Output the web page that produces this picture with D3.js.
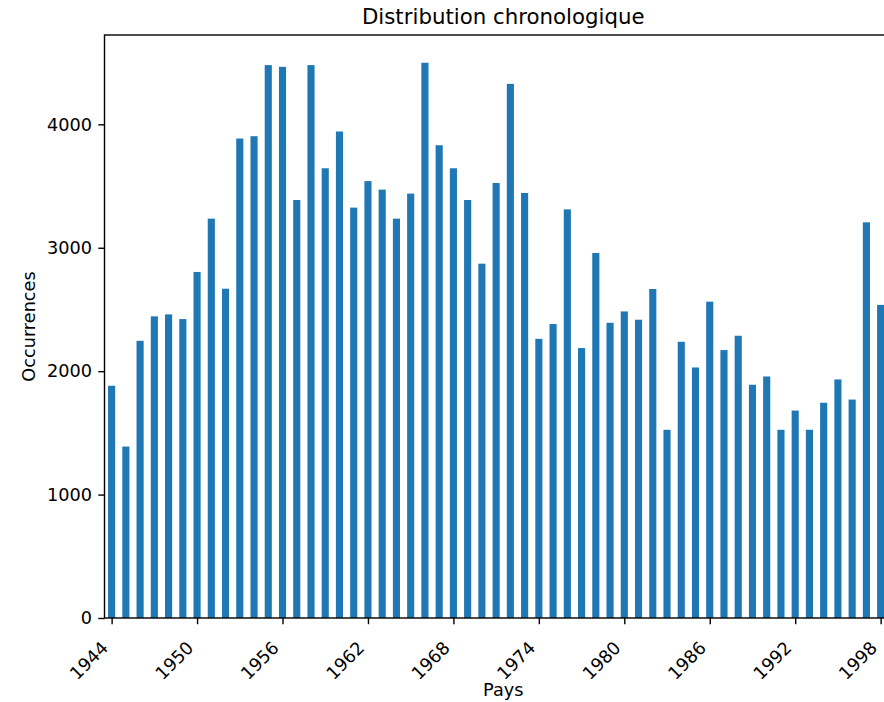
<!DOCTYPE html>
<html><head><meta charset="utf-8">
<script src="https://cdn.jsdelivr.net/npm/d3@7"></script>
<style>html,body{margin:0;padding:0;background:#fff;overflow:hidden}svg{display:block;font-family:"DejaVu Sans",sans-serif}svg text{font-family:"DejaVu Sans",sans-serif}</style>
</head><body>
<script>
const years = [1944,1945,1946,1947,1948,1949,1950,1951,1952,1953,1954,1955,1956,1957,1958,1959,1960,1961,1962,1963,1964,1965,1966,1967,1968,1969,1970,1971,1972,1973,1974,1975,1976,1977,1978,1979,1980,1981,1982,1983,1984,1985,1986,1987,1988,1989,1990,1991,1992,1993,1994,1995,1996,1997,1998];
const occurrences = [1882,1389,2246,2444,2460,2422,2804,3236,2668,3885,3904,4480,4466,3387,4480,3644,3942,3325,3540,3471,3236,3439,4499,3831,3644,3387,2871,3525,4328,3444,2262,2382,3311,2187,2958,2392,2484,2417,2666,1525,2238,2030,2563,2171,2287,1890,1957,1525,1681,1525,1744,1933,1770,3206,2537];
const yTicks = [0,1000,2000,3000,4000];
const xTickYears = [1944,1950,1956,1962,1968,1974,1980,1986,1992,1998];
const chartTitle = "Distribution chronologique";
const xLabel = "Pays";
const yLabel = "Occurrences";

(function () {
const W = 884, H = 702;
const pLeft = 104.5, pRight = 902, pTop = 35, pBottom = 618;
const nSlots = 56;
const fs = 17.7, lw = 1.4, tl = 6.2;

const svg = d3.select("body").append("svg").attr("width", W).attr("height", H);

const x = d3.scaleLinear().domain([-0.5, nSlots - 0.5]).range([pLeft, pRight]);
const y = d3.scaleLinear().domain([0, d3.max(occurrences) * 1.05]).range([pBottom, pTop]);
const bw = (x(1) - x(0)) * 0.5;

svg.append("g").selectAll("rect").data(occurrences).join("rect")
  .attr("x", (d, i) => x(i) - bw / 2)
  .attr("width", bw)
  .attr("y", d => y(d))
  .attr("height", d => y(0) - y(d))
  .attr("fill", "#1f77b4");

// spines
svg.append("rect").attr("x", pLeft).attr("y", pTop).attr("width", pRight - pLeft).attr("height", pBottom - pTop)
  .attr("fill", "none").attr("stroke", "#000").attr("stroke-width", lw);

// x axis
const xAxis = d3.axisBottom(x)
  .tickValues(xTickYears.map(yr => years.indexOf(yr)))
  .tickFormat(i => years[i])
  .tickSize(tl).tickSizeOuter(0);
const gx = svg.append("g").attr("transform", `translate(0,${pBottom})`).call(xAxis);
gx.select(".domain").remove();
gx.selectAll(".tick line").attr("stroke", "#000").attr("stroke-width", lw);
gx.selectAll(".tick text")
  .attr("font-size", fs).attr("fill", "#000")
  .attr("text-anchor", "end")
  .attr("dy", null).attr("y", null)
  .attr("transform", "translate(-3,31) rotate(-45)");

// y axis
const yAxis = d3.axisLeft(y).tickValues(yTicks).tickFormat(d3.format("d")).tickSize(tl).tickPadding(6.2);
const gy = svg.append("g").attr("transform", `translate(${pLeft},0)`).call(yAxis);
gy.select(".domain").remove();
gy.selectAll(".tick line").attr("stroke", "#000").attr("stroke-width", lw);
gy.selectAll(".tick text").attr("font-size", fs).attr("fill", "#000");

// labels
svg.append("text").attr("x", (pLeft + pRight) / 2).attr("y", 24).attr("text-anchor", "middle")
  .attr("font-size", 21.3).attr("fill", "#000").text(chartTitle);
svg.append("text").attr("x", (pLeft + pRight) / 2).attr("y", 696).attr("text-anchor", "middle")
  .attr("font-size", fs).attr("fill", "#000").text(xLabel);
svg.append("text").attr("transform", `translate(35,${(pTop + pBottom) / 2}) rotate(-90)`)
  .attr("text-anchor", "middle").attr("font-size", fs).attr("fill", "#000").text(yLabel);
})();
</script>
</body></html>
